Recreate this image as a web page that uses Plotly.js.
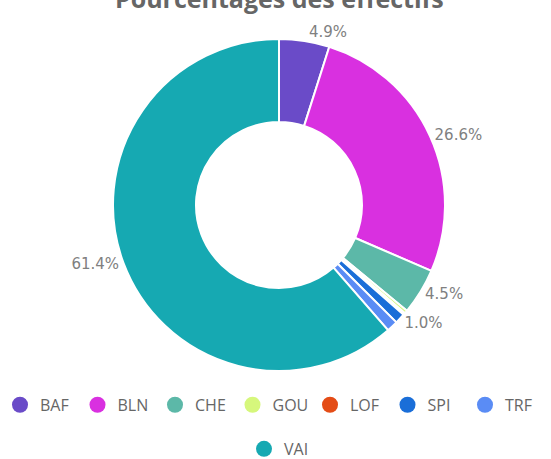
<!DOCTYPE html>
<html><head><meta charset="utf-8">
<script src="https://cdn.plot.ly/plotly-3.0.1.min.js"></script>
<style>html,body{margin:0;padding:0;background:#fff}#c{width:551px;height:459px}</style>
</head><body><div id="c"></div>
<script>
const categories = ['BAF','BLN','CHE','GOU','LOF','SPI','TRF','VAI'];
const values = [4.9, 26.6, 4.5, 0.3, 0.2, 1.0, 1.1, 61.4];
const colors = ['#6a4bc8','#d930e0','#5cb8a8','#d6f77c','#e44c16','#1a6ed8','#5a8cf5','#16a9b2'];
const showLabel = [true, true, true, false, false, true, false, true];
const titleText = 'Pourcentages des effectifs';

const pie = {
  type: 'pie', labels: categories, values: values, sort: false, direction: 'clockwise',
  rotation: 0, hole: 0.5,
  marker: {colors: colors, line: {color: '#fff', width: 2}},
  texttemplate: values.map((v,i)=> showLabel[i] ? '%{value:.1f}%' : ''),
  textposition: 'outside', textfont: {family: 'DejaVu Sans', size: 15, color: '#808080'},
  showlegend: false, hoverinfo: 'label+percent', automargin: false,
  domain: {x: [0, 1], y: [0, 1]}
};
const legendTraces = categories.map((c,i)=>({
  type: 'scatter', mode: 'markers', x: [null], y: [null], name: c,
  marker: {symbol: 'circle', size: 17, color: colors[i]},
  legend: c === 'VAI' ? 'legend2' : 'legend', showlegend: true, hoverinfo: 'skip'
}));
const legFont = {family: 'Open Sans', size: 16, color: '#666'};
Plotly.newPlot('c', [pie, ...legendTraces], {
  width: 551, height: 459,
  margin: {l: 7, r: 0, t: 39, b: 88},
  paper_bgcolor: '#fff', plot_bgcolor: '#fff',
  annotations: [{text: '<b>' + titleText + '</b>', xref: 'paper', yref: 'paper', x: 0.5, y: 1.122,
    xanchor: 'center', yanchor: 'middle', showarrow: false,
    font: {family: 'Open Sans', size: 25, color: '#666'}}],
  xaxis: {visible: false}, yaxis: {visible: false},
  legend: {orientation: 'h', x: 0.478, xanchor: 'center', y: 0.118, yref: 'container', yanchor: 'middle',
           font: legFont, itemwidth: 30, tracegroupgap: 0, entrywidth: 32.5, entrywidthmode: 'pixels'},
  legend2: {orientation: 'h', x: 0.5, xanchor: 'center', y: 0.022, yref: 'container', yanchor: 'middle', font: legFont, itemwidth: 30}
}, {displayModeBar: false, staticPlot: true});
</script></body></html>
